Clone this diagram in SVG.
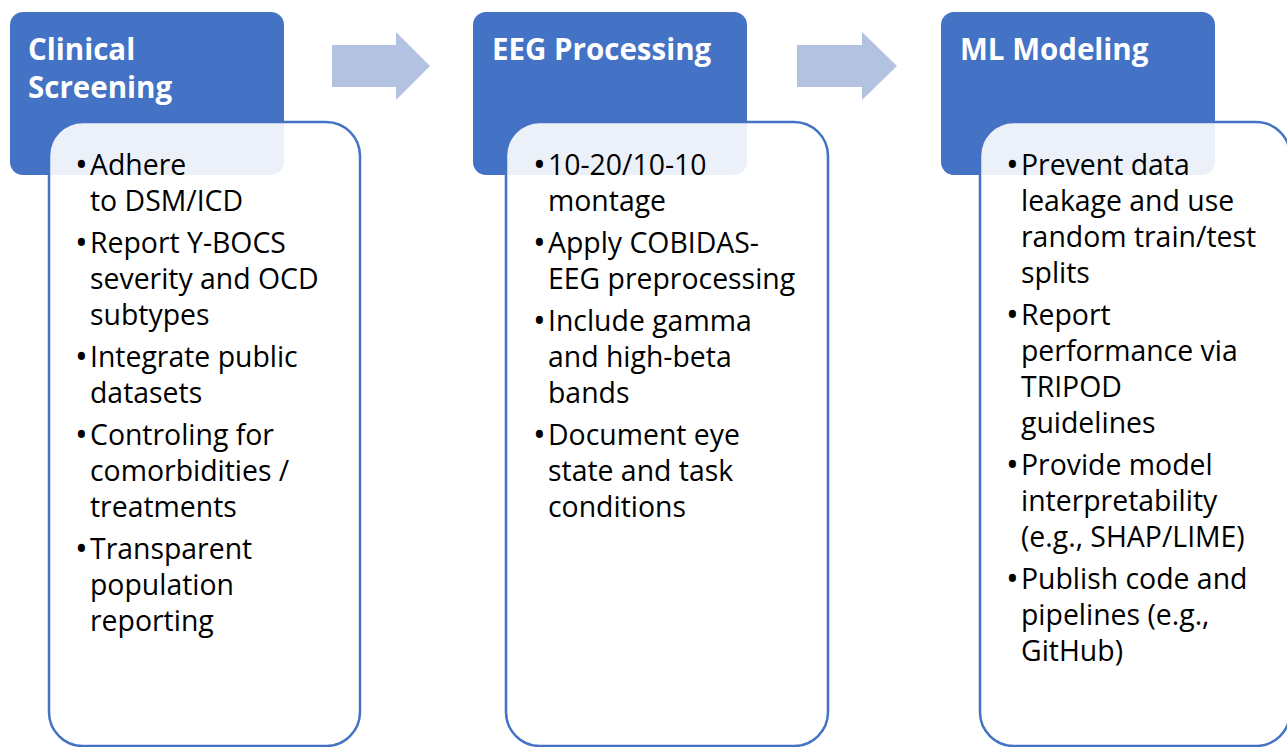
<svg xmlns="http://www.w3.org/2000/svg" width="1287" height="747" viewBox="0 0 1287 747">
<style>
.hdr{fill:#4472C4;}
.card{fill:#FFFFFF;fill-opacity:0.9;stroke:#4472C4;stroke-width:2.5;}
.ttl{font-family:"Open Sans","Noto Sans",sans-serif;font-weight:bold;font-size:29.5px;fill:#FFFFFF;}
.txt{font-family:"Open Sans","Noto Sans",sans-serif;font-size:28.4px;fill:#000000;}
.bul{font-size:34px;}
.arr{fill:#B4C2E2;}
</style>
<rect width="1287" height="747" fill="#FFFFFF"/>
<g id="connectors">
<polygon class="arr" points="332,45 396,45 396,32 430,66 396,100 396,87 332,87"/>
<polygon class="arr" points="797,45 862,45 862,32 897,66 862,100 862,87 797,87"/>
</g>
<g id="node-clinical">
<rect class="hdr" x="10" y="12" width="274" height="163" rx="13"/>
<rect class="card" x="49" y="122" width="311" height="624" rx="34"/>
<text class="ttl" x="28" y="60">Clinical</text>
<text class="ttl" x="28" y="98">Screening</text>
<g class="txt">
<text class="bul" x="75" y="177">•</text><text x="90" y="175">Adhere</text>
<text x="90" y="211">to DSM/ICD</text>
<text class="bul" x="75" y="255">•</text><text x="90" y="253">Report Y-BOCS</text>
<text x="90" y="289">severity and OCD</text>
<text x="90" y="325">subtypes</text>
<text class="bul" x="75" y="369">•</text><text x="90" y="367">Integrate public</text>
<text x="90" y="403">datasets</text>
<text class="bul" x="75" y="447">•</text><text x="90" y="445">Controling for</text>
<text x="90" y="481">comorbidities /</text>
<text x="90" y="517">treatments</text>
<text class="bul" x="75" y="561">•</text><text x="90" y="559">Transparent</text>
<text x="90" y="595">population</text>
<text x="90" y="631">reporting</text>
</g>
</g>
<g id="node-eeg">
<rect class="hdr" x="473" y="12" width="274" height="163" rx="13"/>
<rect class="card" x="506" y="122" width="322" height="624" rx="34"/>
<text class="ttl" x="492" y="60">EEG Processing</text>
<g class="txt">
<text class="bul" x="533" y="177">•</text><text x="548" y="175">10-20/10-10</text>
<text x="548" y="211">montage</text>
<text class="bul" x="533" y="255">•</text><text x="548" y="253">Apply COBIDAS-</text>
<text x="548" y="289">EEG preprocessing</text>
<text class="bul" x="533" y="333">•</text><text x="548" y="331">Include gamma</text>
<text x="548" y="367">and high-beta</text>
<text x="548" y="403">bands</text>
<text class="bul" x="533" y="447">•</text><text x="548" y="445">Document eye</text>
<text x="548" y="481">state and task</text>
<text x="548" y="517">conditions</text>
</g>
</g>
<g id="node-ml">
<rect class="hdr" x="941" y="12" width="274" height="163" rx="13"/>
<rect class="card" x="980" y="122" width="310" height="624" rx="34"/>
<text class="ttl" x="960" y="60">ML Modeling</text>
<g class="txt">
<text class="bul" x="1006" y="177">•</text><text x="1021" y="175">Prevent data</text>
<text x="1021" y="211">leakage and use</text>
<text x="1021" y="247">random train/test</text>
<text x="1021" y="283">splits</text>
<text class="bul" x="1006" y="327">•</text><text x="1021" y="325">Report</text>
<text x="1021" y="361">performance via</text>
<text x="1021" y="397">TRIPOD</text>
<text x="1021" y="433">guidelines</text>
<text class="bul" x="1006" y="477">•</text><text x="1021" y="475">Provide model</text>
<text x="1021" y="511">interpretability</text>
<text x="1021" y="547">(e.g., SHAP/LIME)</text>
<text class="bul" x="1006" y="591">•</text><text x="1021" y="589">Publish code and</text>
<text x="1021" y="625">pipelines (e.g.,</text>
<text x="1021" y="661">GitHub)</text>
</g>
</g>
</svg>
